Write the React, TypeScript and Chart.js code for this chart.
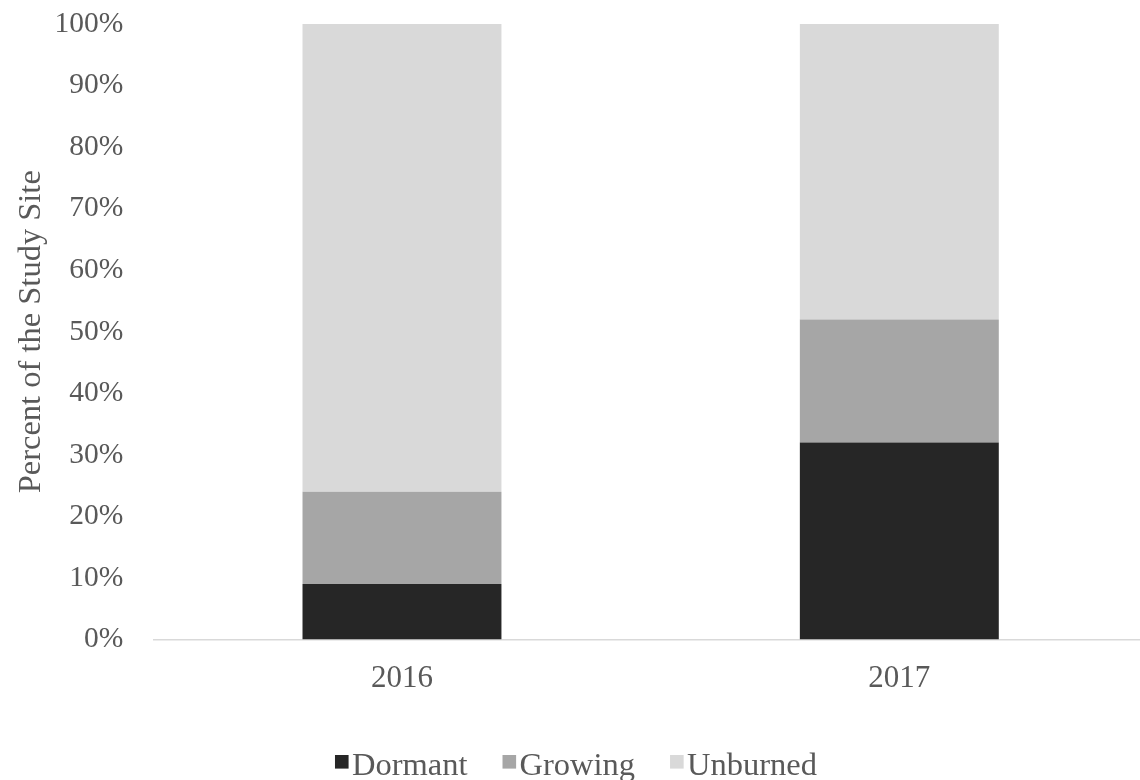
import React, { useEffect, useRef } from "react";
import { Chart, registerables } from "chart.js";

Chart.register(...registerables);

const categories = ["2016", "2017"];
const seriesNames = ["Dormant", "Growing", "Unburned"];
const dormant = [9, 32];
const growing = [15, 20];
const unburned = [76, 48];
const seriesColors = ["#262626", "#a6a6a6", "#d9d9d9"];

const FONT = '"Liberation Serif", "Times New Roman", serif';
const TEXT = "#595959";

const legendPlugin = {
  id: "customLegend",
  afterDraw(chart: any) {
    const ctx = chart.ctx as CanvasRenderingContext2D;
    ctx.save();
    ctx.font = `32.5px ${FONT}`;
    const items = chart.data.datasets.map((ds: any) => ({
      label: ds.label as string,
      color: ds.backgroundColor as string,
      w: ctx.measureText(ds.label).width,
    }));
    const box = 13.6;
    const gap = 3.4;
    const itemGap = 35;
    const total =
      items.reduce((s: number, it: any) => s + box + gap + it.w, 0) +
      itemGap * (items.length - 1);
    let x = 576 - total / 2;
    const baseline = 775;
    for (const it of items) {
      ctx.fillStyle = it.color;
      ctx.fillRect(x, 755, box, box);
      x += box + gap;
      ctx.fillStyle = TEXT;
      ctx.textBaseline = "alphabetic";
      ctx.textAlign = "left";
      ctx.fillText(it.label, x, baseline);
      x += it.w + itemGap;
    }
    ctx.restore();
  },
};

export default function App() {
  const ref = useRef<HTMLCanvasElement | null>(null);

  useEffect(() => {
    if (!ref.current) return;
    const values = [dormant, growing, unburned];
    const chart = new Chart(ref.current, {
      type: "bar",
      data: {
        labels: categories,
        datasets: seriesNames.map((name, i) => ({
          label: name,
          data: values[i],
          backgroundColor: seriesColors[i],
          borderWidth: 0,
          categoryPercentage: 0.4,
          barPercentage: 1,
        })),
      },
      options: {
        responsive: false,
        animation: false,
        devicePixelRatio: 1,
        layout: { padding: { top: 24, left: 0, right: 0, bottom: 0 } },
        plugins: {
          legend: { display: false },
          tooltip: { enabled: false },
        },
        scales: {
          x: {
            stacked: true,
            grid: { display: false, drawTicks: false },
            border: { display: true, color: "#d9d9d9", width: 1.5 },
            ticks: {
              color: TEXT,
              font: { family: FONT, size: 31 },
              padding: 21,
            },
            afterFit: (s: any) => {
              s.height = 140.5;
            },
          },
          y: {
            stacked: true,
            min: 0,
            max: 100,
            grid: { display: false, drawTicks: false },
            border: { display: false },
            ticks: {
              stepSize: 10,
              color: TEXT,
              font: { family: FONT, size: 29.5 },
              padding: 30,
              callback: (v: any) => `${v}%`,
            },
            title: {
              display: true,
              text: "Percent of the Study Site",
              color: TEXT,
              font: { family: FONT, size: 32.5, lineHeight: 1.2 },
              padding: { top: 12, bottom: 0 },
            },
            afterFit: (s: any) => {
              s.width = 153.3;
              s.paddingTop = 0;
              s.paddingBottom = 0;
            },
          },
        },
      },
      plugins: [legendPlugin],
    });
    return () => chart.destroy();
  }, []);

  return (
    <div
      style={{
        position: "absolute",
        left: 0,
        top: 0,
        width: 1140,
        height: 780,
        overflow: "hidden",
        background: "#fff",
      }}
    >
      <canvas ref={ref} width={1148} height={780} style={{ width: 1148, height: 780, display: "block" }} />
    </div>
  );
}
